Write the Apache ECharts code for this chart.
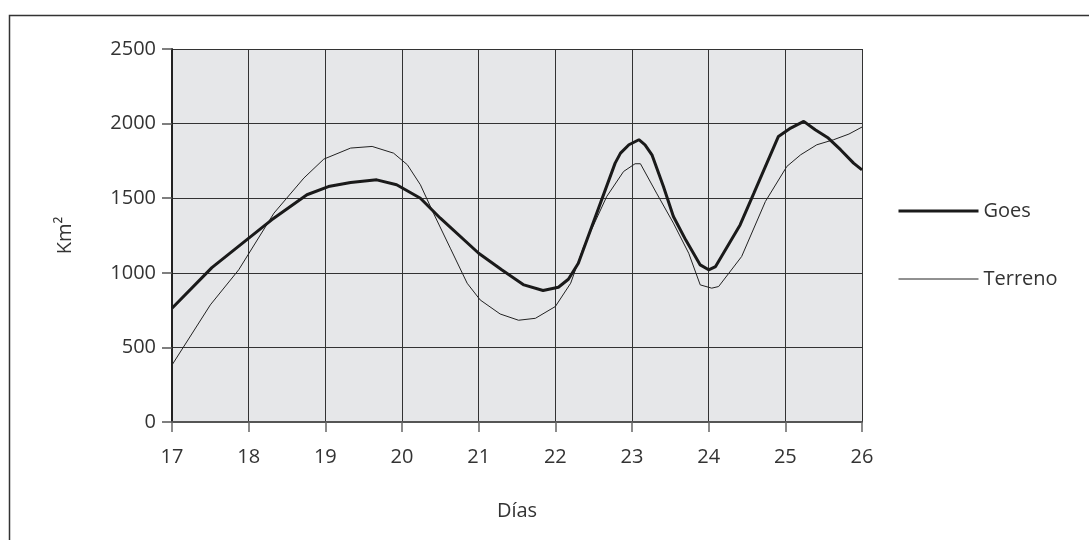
<!DOCTYPE html>
<html>
<head>
<meta charset="utf-8">
<script src="https://cdn.jsdelivr.net/npm/echarts@6/dist/echarts.min.js"></script>
<style>
html,body{margin:0;padding:0;background:#fff;}
#chart{width:1089px;height:540px;}
</style>
</head>
<body>
<div id="chart"></div>
<script>
const seriesNames = ['Goes', 'Terreno'];
const xAxisTitle = 'Días';
const yAxisTitle = 'Km²';

const goesDays = [17.0, 17.52, 18.30, 18.76, 19.04, 19.33, 19.67, 19.93, 20.24, 20.50, 21.0, 21.30, 21.59, 21.84, 22.04, 22.17, 22.30, 22.78, 22.85, 22.96, 23.09, 23.17, 23.26, 23.41, 23.54, 23.70, 23.89, 24.0, 24.09, 24.41, 24.59, 24.91, 25.07, 25.24, 25.39, 25.56, 25.72, 25.89, 26.0];
const goesValues = [762, 1035, 1355, 1523, 1578, 1605, 1623, 1590, 1500, 1366, 1131, 1020, 919, 881, 903, 957, 1064, 1735, 1802, 1858, 1892, 1858, 1791, 1578, 1377, 1221, 1053, 1020, 1042, 1321, 1534, 1914, 1970, 2015, 1959, 1903, 1825, 1735, 1690];

const terrenoDays = [17.0, 17.5, 17.87, 18.33, 18.72, 18.98, 19.33, 19.61, 19.89, 20.07, 20.24, 20.41, 20.63, 20.85, 21.02, 21.28, 21.52, 21.74, 22.0, 22.20, 22.37, 22.67, 22.89, 23.04, 23.11, 23.32, 23.54, 23.74, 23.89, 24.04, 24.13, 24.43, 24.74, 25.02, 25.20, 25.41, 25.63, 25.83, 26.0];
const terrenoValues = [382, 785, 1020, 1400, 1635, 1762, 1836, 1847, 1802, 1724, 1590, 1400, 1165, 930, 818, 724, 682, 695, 774, 930, 1176, 1511, 1679, 1731, 1731, 1534, 1333, 1131, 919, 897, 908, 1109, 1478, 1713, 1791, 1858, 1892, 1930, 1977];

const xMin = 17, xMax = 26, xStep = 1;
const yMin = 0, yMax = 2500, yStep = 500;

const pair = (xs, ys) => xs.map((x, i) => [x, ys[i]]);

const FONT = "'Open Sans', 'Noto Sans', sans-serif";
const TEXT = '#333';

const chart = echarts.init(document.getElementById('chart'), null, {renderer: 'canvas'});
chart.setOption({
  animation: false,
  backgroundColor: '#fff',
  textStyle: {fontFamily: FONT, color: TEXT},
  graphic: [{
    type: 'rect',
    left: 7, top: 13,
    shape: {width: 1200, height: 700},
    style: {fill: 'none', stroke: '#333', lineWidth: 1.5},
    silent: true
  }],
  grid: {
    left: 172, right: 227, top: 49, bottom: 118,
    show: true, backgroundColor: '#e6e7e9', borderWidth: 0
  },
  legend: {
    orient: 'vertical',
    left: 897, top: 201, padding: 0,
    itemWidth: 80, itemHeight: 20, itemGap: 48, itemTextGap: 6,
    itemStyle: {opacity: 0},
    textStyle: {fontFamily: FONT, fontSize: 20, color: TEXT},
    data: [
      {name: seriesNames[0], lineStyle: {width: 3, color: '#1a1a1a'}, itemStyle: {opacity: 0}},
      {name: seriesNames[1], lineStyle: {width: 1, color: '#222'}, itemStyle: {opacity: 0}}
    ]
  },
  xAxis: {
    type: 'value', min: xMin, max: xMax, interval: xStep,
    name: xAxisTitle, nameLocation: 'middle', nameGap: 79,
    nameTextStyle: {fontFamily: FONT, fontSize: 20, color: TEXT},
    axisLine: {show: true, onZero: false, lineStyle: {color: '#555', width: 2}},
    axisTick: {show: true, length: 10, lineStyle: {color: '#666', width: 1.5}},
    axisLabel: {margin: 25, fontFamily: FONT, fontSize: 20, color: TEXT},
    splitLine: {show: true, lineStyle: {color: '#333', width: 1}}
  },
  yAxis: {
    type: 'value', min: yMin, max: yMax, interval: yStep,
    name: yAxisTitle, nameLocation: 'middle', nameGap: 97,
    nameTextStyle: {fontFamily: FONT, fontSize: 20, color: TEXT},
    axisLine: {show: true, lineStyle: {color: '#222', width: 2}},
    axisTick: {show: true, length: 10, lineStyle: {color: '#555', width: 1.5}},
    axisLabel: {margin: 16, fontFamily: FONT, fontSize: 20, color: TEXT, formatter: v => String(v)},
    splitLine: {show: true, lineStyle: {color: '#333', width: 1}}
  },
  series: [
    {
      name: seriesNames[0], type: 'line', symbol: 'none', showSymbol: false,
      lineStyle: {color: '#1a1a1a', width: 3}, itemStyle: {color: '#1a1a1a'},
      data: pair(goesDays, goesValues), z: 3
    },
    {
      name: seriesNames[1], type: 'line', symbol: 'none', showSymbol: false,
      lineStyle: {color: '#222', width: 1}, itemStyle: {color: '#222'},
      data: pair(terrenoDays, terrenoValues), z: 2
    }
  ]
});
</script>
</body>
</html>
